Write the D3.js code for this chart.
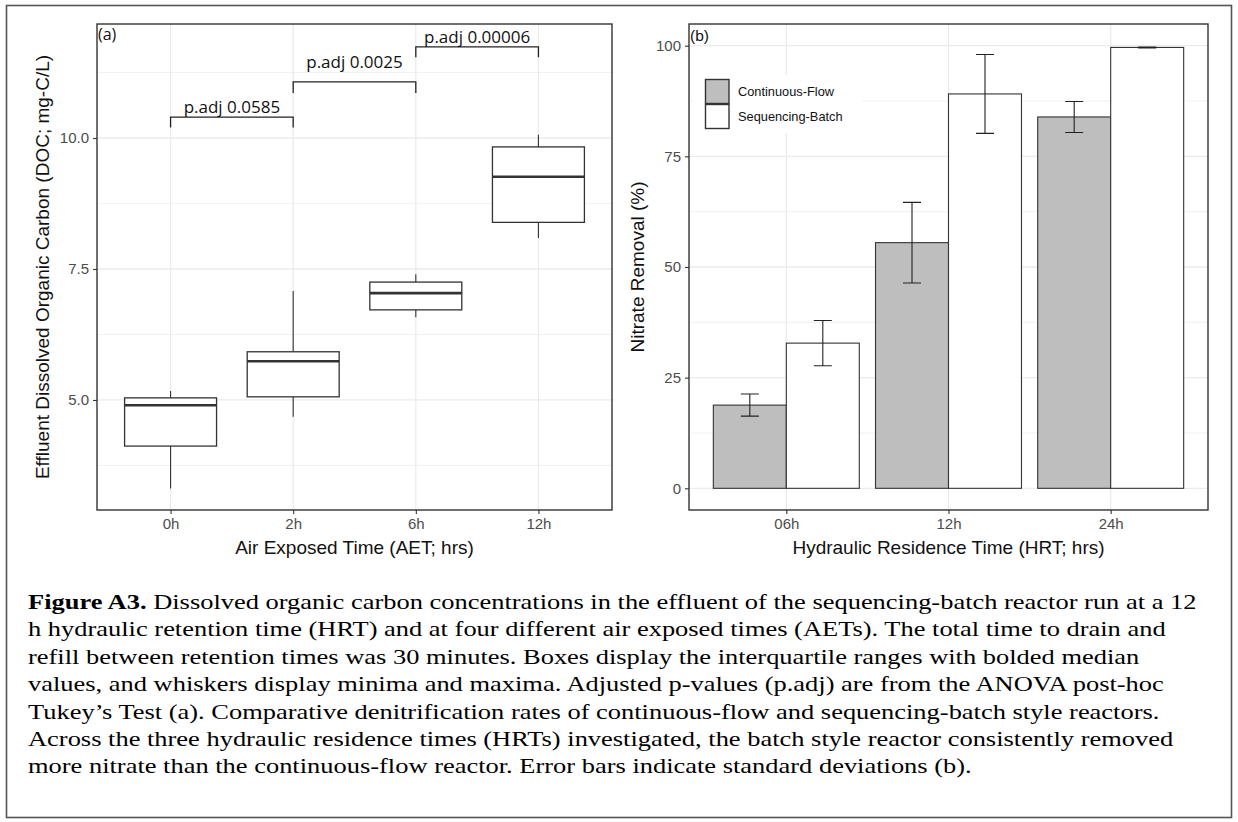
<!DOCTYPE html>
<html>
<head>
<meta charset="utf-8">
<script src="https://cdn.jsdelivr.net/npm/d3@7"></script>
<style>
  html, body { margin: 0; padding: 0; background: #fff; }
  svg { display: block; }
</style>
</head>
<body>
<svg id="chart" width="1238" height="822"></svg>
<script>
// ---------- DATA: panel (a) boxplots ----------
const aetCategories = ["0h", "2h", "6h", "12h"];
const boxMin = [3.31, 4.68, 6.58, 8.09];
const boxQ1  = [4.12, 5.06, 6.72, 8.39];
const boxMed = [4.90, 5.74, 7.04, 9.26];
const boxQ3  = [5.04, 5.92, 7.25, 9.83];
const boxMax = [5.17, 7.08, 7.40, 10.06];
const aTicks = [5.0, 7.5, 10.0];
const aMinorTicks = [3.75, 6.25, 8.75, 11.25];

// brackets (Tukey comparisons)
const bracketFrom = ["0h", "2h", "6h"];
const bracketTo   = ["2h", "6h", "12h"];
const bracketY    = [10.40, 11.07, 11.74];
const bracketTip  = [0.20, 0.21, 0.20];
const bracketLabelY = [10.48, 11.33, 11.82];
const bracketLabels = ["p.adj 0.0585", "p.adj 0.0025", "p.adj 0.00006"];

// ---------- DATA: panel (b) bars ----------
const hrtCategories = ["06h", "12h", "24h"];
const seriesNames = ["Continuous-Flow", "Sequencing-Batch"];
const cfMean = [18.8, 55.5, 83.9];
const cfSD   = [2.5, 9.1, 3.5];
const sbMean = [32.8, 89.1, 99.6];
const sbSD   = [5.1, 8.9, 0.1];
const bTicks = [0, 25, 50, 75, 100];
const bMinorTicks = [12.5, 37.5, 62.5, 87.5];

// ---------- caption ----------
const captionBold = "Figure A3.";
const captionLines = [
  " Dissolved organic carbon concentrations in the effluent of the sequencing-batch reactor run at a 12",
  "h hydraulic retention time (HRT) and at four different air exposed times (AETs). The total time to drain and",
  "refill between retention times was 30 minutes. Boxes display the interquartile ranges with bolded median",
  "values, and whiskers display minima and maxima. Adjusted p-values (p.adj) are from the ANOVA post-hoc",
  "Tukey\u2019s Test (a). Comparative denitrification rates of continuous-flow and sequencing-batch style reactors.",
  "Across the three hydraulic residence times (HRTs) investigated, the batch style reactor consistently removed",
  "more nitrate than the continuous-flow reactor. Error bars indicate standard deviations (b)."
];

// ---------- drawing ----------
const svg = d3.select("#chart");
const sansFont = "'Liberation Sans', Arial, sans-serif";
const pFont = "'Open Sans', 'Noto Sans', sans-serif";
const serifFont = "'Liberation Serif', 'Times New Roman', Tinos, 'Nimbus Roman', FreeSerif, 'Noto Serif', 'DejaVu Serif', serif";
const gridCol = "#ebebeb";
const darkCol = "#333333";
const tickTextCol = "#4d4d4d";

svg.append("rect").attr("width", 1238).attr("height", 822).attr("fill", "#fff");
svg.append("rect").attr("x", 6.5).attr("y", 5.5).attr("width", 1225).attr("height", 812)
  .attr("fill", "none").attr("stroke", "#555").attr("stroke-width", 1.6);

// ===== Panel (a) =====
const A = { left: 97, right: 612, top: 24, bottom: 510 };
const xA = d3.scalePoint().domain(aetCategories).range([A.left, A.right]).padding(0.6);
const yA = d3.scaleLinear().domain([2.90, 12.176]).range([A.bottom, A.top]);
const gA = svg.append("g");

gA.selectAll(".minor").data(aMinorTicks).join("line")
  .attr("x1", A.left).attr("x2", A.right).attr("y1", d => yA(d)).attr("y2", d => yA(d))
  .attr("stroke", gridCol).attr("stroke-width", 0.7);
gA.selectAll(".major").data(aTicks).join("line")
  .attr("x1", A.left).attr("x2", A.right).attr("y1", d => yA(d)).attr("y2", d => yA(d))
  .attr("stroke", gridCol).attr("stroke-width", 1.3);
gA.selectAll(".vgrid").data(aetCategories).join("line")
  .attr("x1", d => xA(d)).attr("x2", d => xA(d)).attr("y1", A.top).attr("y2", A.bottom)
  .attr("stroke", gridCol).attr("stroke-width", 1.3);

const boxW = xA.step() * 0.75;
aetCategories.forEach((c, i) => {
  const cx = xA(c);
  gA.append("line").attr("x1", cx).attr("x2", cx).attr("y1", yA(boxMax[i])).attr("y2", yA(boxQ3[i]))
    .attr("stroke", darkCol).attr("stroke-width", 1.1);
  gA.append("line").attr("x1", cx).attr("x2", cx).attr("y1", yA(boxQ1[i])).attr("y2", yA(boxMin[i]))
    .attr("stroke", darkCol).attr("stroke-width", 1.1);
  gA.append("rect").attr("x", cx - boxW / 2).attr("width", boxW)
    .attr("y", yA(boxQ3[i])).attr("height", yA(boxQ1[i]) - yA(boxQ3[i]))
    .attr("fill", "#fff").attr("stroke", darkCol).attr("stroke-width", 1.3);
  gA.append("line").attr("x1", cx - boxW / 2).attr("x2", cx + boxW / 2)
    .attr("y1", yA(boxMed[i])).attr("y2", yA(boxMed[i]))
    .attr("stroke", darkCol).attr("stroke-width", 2.6);
});

// brackets
bracketLabels.forEach((lab, i) => {
  const x1 = xA(bracketFrom[i]), x2 = xA(bracketTo[i]);
  const yb = yA(bracketY[i]), yt = yA(bracketY[i] - bracketTip[i]);
  gA.append("path")
    .attr("d", `M${x1},${yt}V${yb}H${x2}V${yt}`)
    .attr("fill", "none").attr("stroke", "#222").attr("stroke-width", 1.3);
  gA.append("text").attr("x", (x1 + x2) / 2).attr("y", yA(bracketLabelY[i]))
    .attr("text-anchor", "middle").attr("font-family", pFont).attr("font-size", 17)
    .attr("fill", "#111").text(lab);
});

gA.append("rect").attr("x", A.left).attr("y", A.top).attr("width", A.right - A.left).attr("height", A.bottom - A.top)
  .attr("fill", "none").attr("stroke", darkCol).attr("stroke-width", 1.4);

// axes a
const yAxisA = gA.append("g").attr("transform", `translate(${A.left},0)`)
  .call(d3.axisLeft(yA).tickValues(aTicks).tickFormat(d3.format(".1f")).tickSize(4).tickPadding(4));
const xAxisA = gA.append("g").attr("transform", `translate(0,${A.bottom})`)
  .call(d3.axisBottom(xA).tickSize(4).tickPadding(4));
[yAxisA, xAxisA].forEach(ax => {
  ax.select(".domain").remove();
  ax.selectAll(".tick line").attr("stroke", darkCol).attr("stroke-width", 1.1);
  ax.selectAll(".tick text").attr("fill", tickTextCol).attr("font-family", sansFont).attr("font-size", 15);
});

gA.append("text").attr("x", A.left + 1).attr("y", 40).attr("font-family", pFont).attr("font-size", 16)
  .attr("fill", "#111").text("(a)");
gA.append("text").attr("transform", `translate(49,${(A.top + A.bottom) / 2}) rotate(-90)`)
  .attr("text-anchor", "middle").attr("font-family", sansFont).attr("font-size", 19).attr("fill", "#111")
  .text("Effluent Dissolved Organic Carbon (DOC; mg-C/L)");
gA.append("text").attr("x", (A.left + A.right) / 2).attr("y", 553.5)
  .attr("text-anchor", "middle").attr("font-family", sansFont).attr("font-size", 19).attr("fill", "#111")
  .text("Air Exposed Time (AET; hrs)");

// ===== Panel (b) =====
const B = { left: 689, right: 1208, top: 24, bottom: 510 };
const xB = d3.scalePoint().domain(hrtCategories).range([B.left, B.right]).padding(0.6);
const yB = d3.scaleLinear().domain([-4.9, 104.9]).range([B.bottom, B.top]);
const gB = svg.append("g");

gB.selectAll(".minor").data(bMinorTicks).join("line")
  .attr("x1", B.left).attr("x2", B.right).attr("y1", d => yB(d)).attr("y2", d => yB(d))
  .attr("stroke", gridCol).attr("stroke-width", 0.7);
gB.selectAll(".major").data(bTicks).join("line")
  .attr("x1", B.left).attr("x2", B.right).attr("y1", d => yB(d)).attr("y2", d => yB(d))
  .attr("stroke", gridCol).attr("stroke-width", 1.3);
gB.selectAll(".vgrid").data(hrtCategories).join("line")
  .attr("x1", d => xB(d)).attr("x2", d => xB(d)).attr("y1", B.top).attr("y2", B.bottom)
  .attr("stroke", gridCol).attr("stroke-width", 1.3);

const barW = xB.step() * 0.45;
const capW = 18;
const series = [
  { name: seriesNames[0], mean: cfMean, sd: cfSD, fill: "#bebebe", offset: -1 },
  { name: seriesNames[1], mean: sbMean, sd: sbSD, fill: "#ffffff", offset: 0 }
];
series.forEach(s => {
  hrtCategories.forEach((c, i) => {
    const x0 = xB(c) + s.offset * barW;
    gB.append("rect").attr("x", x0).attr("width", barW)
      .attr("y", yB(s.mean[i])).attr("height", yB(0) - yB(s.mean[i]))
      .attr("fill", s.fill).attr("stroke", darkCol).attr("stroke-width", 1.1);
  });
});
series.forEach(s => {
  hrtCategories.forEach((c, i) => {
    const cx = xB(c) + s.offset * barW + barW / 2;
    const hi = yB(s.mean[i] + s.sd[i]), lo = yB(s.mean[i] - s.sd[i]);
    gB.append("path")
      .attr("d", `M${cx - capW / 2},${hi}H${cx + capW / 2}M${cx},${hi}V${lo}M${cx - capW / 2},${lo}H${cx + capW / 2}`)
      .attr("fill", "none").attr("stroke", "#222").attr("stroke-width", 1.1);
  });
});

// legend
const lg = gB.append("g");
lg.append("rect").attr("x", 694).attr("y", 75).attr("width", 168).attr("height", 58).attr("fill", "#fff");
series.forEach((s, i) => {
  lg.append("rect").attr("x", 705.5).attr("y", 79.5 + i * 25).attr("width", 23.5).attr("height", 24)
    .attr("fill", s.fill).attr("stroke", darkCol).attr("stroke-width", 1.4);
  lg.append("text").attr("x", 738).attr("y", 91.5 + i * 25.5).attr("dy", "0.35em")
    .attr("font-family", sansFont).attr("font-size", 12.8).attr("fill", "#111").text(s.name);
});

gB.append("rect").attr("x", B.left).attr("y", B.top).attr("width", B.right - B.left).attr("height", B.bottom - B.top)
  .attr("fill", "none").attr("stroke", darkCol).attr("stroke-width", 1.4);

const yAxisB = gB.append("g").attr("transform", `translate(${B.left},0)`)
  .call(d3.axisLeft(yB).tickValues(bTicks).tickFormat(d3.format("d")).tickSize(4).tickPadding(4));
const xAxisB = gB.append("g").attr("transform", `translate(0,${B.bottom})`)
  .call(d3.axisBottom(xB).tickSize(4).tickPadding(4));
[yAxisB, xAxisB].forEach(ax => {
  ax.select(".domain").remove();
  ax.selectAll(".tick line").attr("stroke", darkCol).attr("stroke-width", 1.1);
  ax.selectAll(".tick text").attr("fill", tickTextCol).attr("font-family", sansFont).attr("font-size", 15);
});

gB.append("text").attr("x", B.left + 1).attr("y", 41).attr("font-family", sansFont).attr("font-size", 15.5)
  .attr("fill", "#111").text("(b)");
gB.append("text").attr("transform", `translate(644,${(B.top + B.bottom) / 2}) rotate(-90)`)
  .attr("text-anchor", "middle").attr("font-family", sansFont).attr("font-size", 19).attr("fill", "#111")
  .text("Nitrate Removal (%)");
gB.append("text").attr("x", (B.left + B.right) / 2).attr("y", 553.5)
  .attr("text-anchor", "middle").attr("font-family", sansFont).attr("font-size", 19).attr("fill", "#111")
  .text("Hydraulic Residence Time (HRT; hrs)");

// ===== Caption =====
const capLeft = 28, capLine1Right = 1197;
const cap = svg.append("g");
const capTexts = [];
captionLines.forEach((line, i) => {
  const t = cap.append("text").attr("x", 0).attr("y", 609 + i * 27.4)
    .attr("font-family", serifFont).attr("font-size", 21)
    .attr("fill", "#000");
  if (i === 0) {
    t.append("tspan").attr("font-weight", "bold").text(captionBold);
  }
  t.append("tspan").text(line);
  capTexts.push(t);
});
// fit the caption's horizontal extent to the reference text block width
const line1Len = capTexts[0].node().getComputedTextLength();
const sx = line1Len > 0 ? (capLine1Right - capLeft) / line1Len : 1;
cap.attr("transform", `translate(${capLeft},0) scale(${sx},1)`);
</script>
</body>
</html>
